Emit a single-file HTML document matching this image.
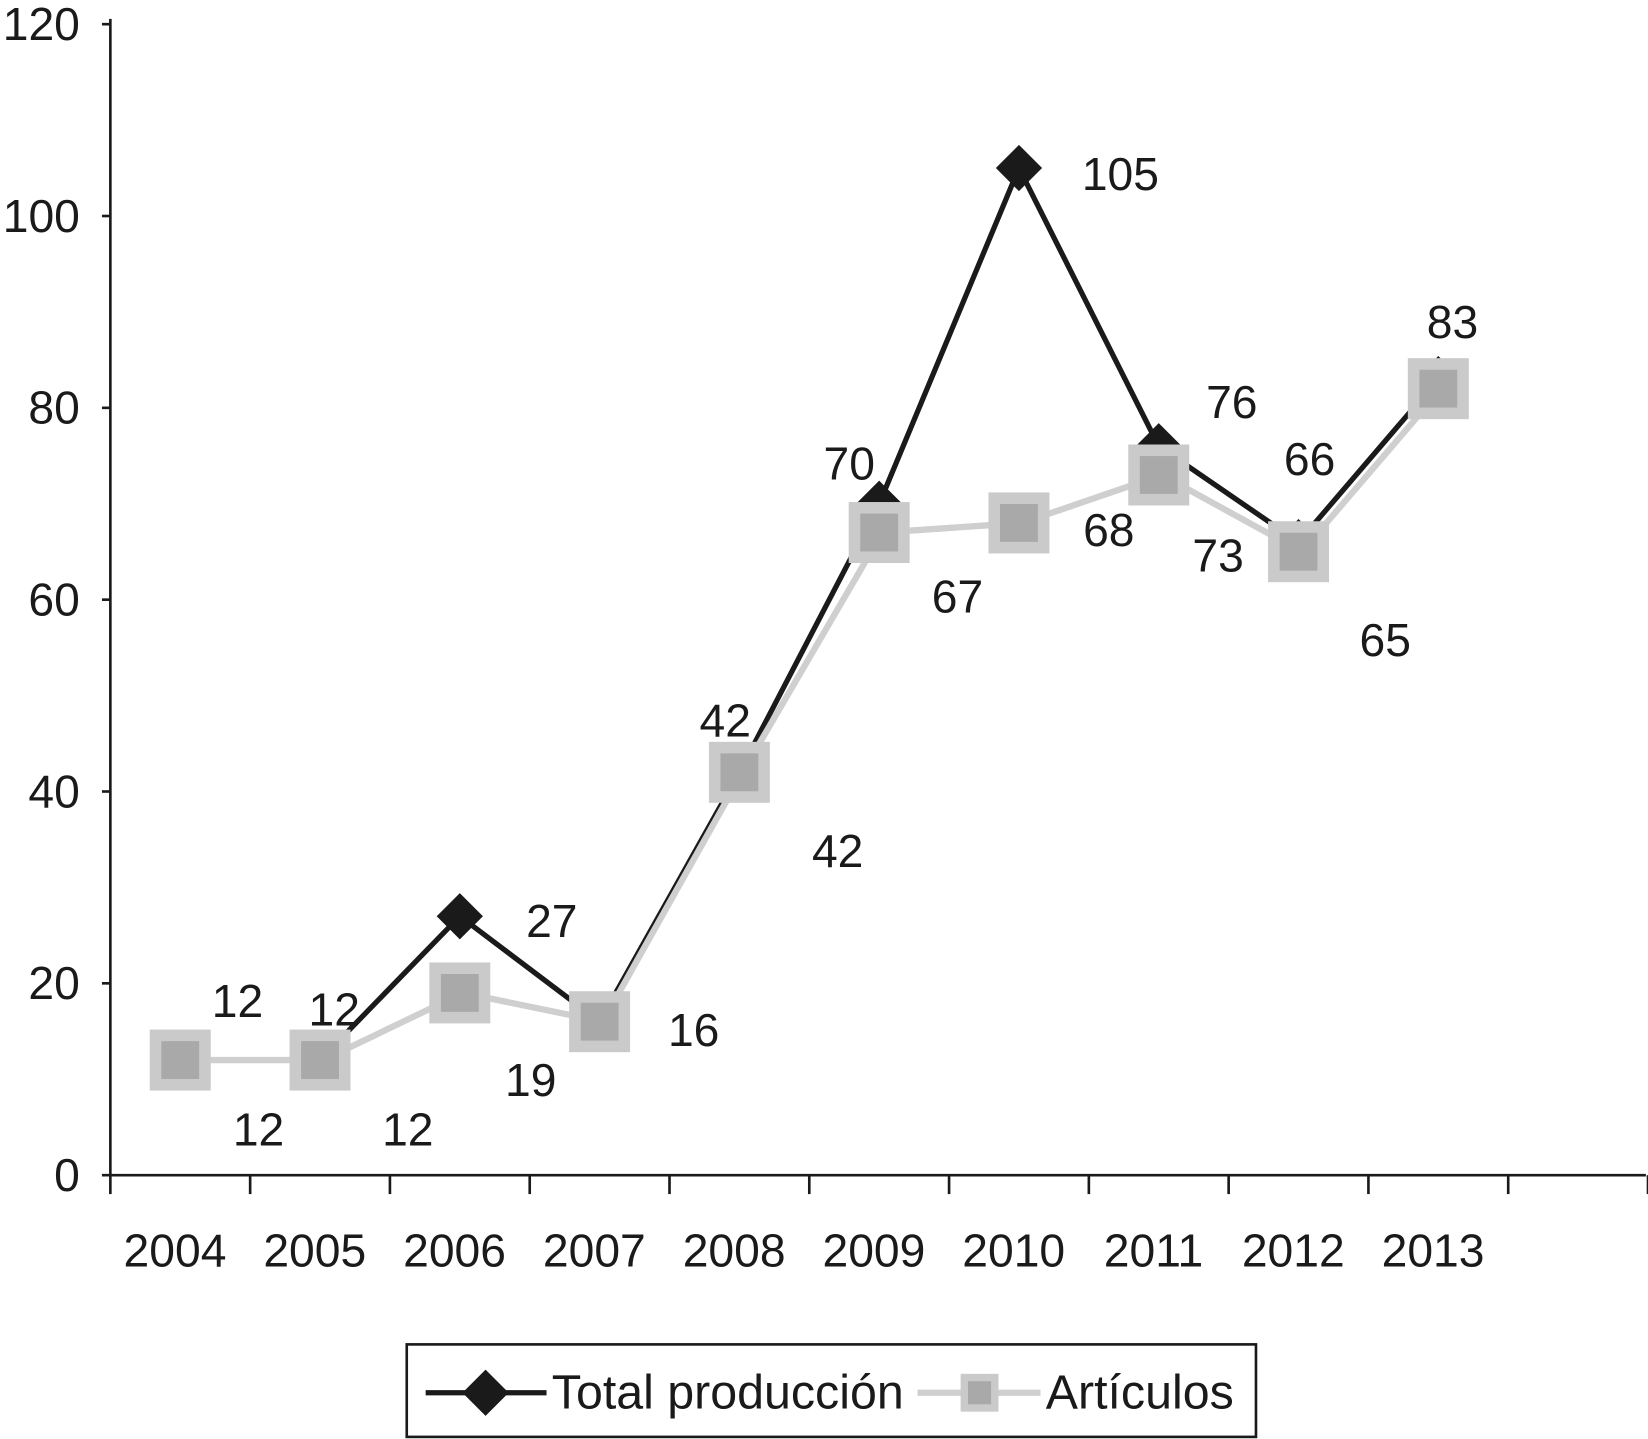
<!DOCTYPE html>
<html><head><meta charset="utf-8"><style>html,body{margin:0;padding:0;background:#fff}svg{display:block}text{font-family:"Liberation Sans",sans-serif;fill:#1a1a1a}</style></head>
<body>
<svg id="chart" width="1648" height="1439" viewBox="0 0 1568 1369" preserveAspectRatio="none" xmlns="http://www.w3.org/2000/svg"></svg>
<script>
const categories=["2004","2005","2006","2007","2008","2009","2010","2011","2012","2013"];
const totalValues=[12,12,27,16,42,70,105,76,66,83];
const articulosValues=[12,12,19,16,42,67,68,73,65,82];
const yTicks=[0,20,40,60,80,100,120];
const totalLabelOffsets=[[54.5,-56],[13.5,-48],[87.5,5],[89.5,8],[-13.5,-49],[-28.5,-38],[96.5,6],[69.5,-42],[10.5,-79],[13.5,-54]];
const artLabelOffsets=[[74.5,66.5],[83.5,66.5],[67.5,83],null,[93.5,75],[74.5,61],[85.5,7],[56.5,77],[82.5,84],null];
const NS="http://www.w3.org/2000/svg";
const svg=document.getElementById('chart');
const X0=105,Y0=1118,YTOP=23,CW=133,FS=44;
const xPos=i=>X0+CW*(i+0.5);
const yPos=v=>Y0-(v/120)*(Y0-YTOP);
function mk(tag,attrs,parent){const e=document.createElementNS(NS,tag);for(const k in attrs)e.setAttribute(k,attrs[k]);(parent||svg).appendChild(e);return e;}
let a=mk('line',{x1:X0,y1:YTOP-5,x2:X0,y2:Y0,stroke:'#1a1a1a','stroke-width':2.5});


a=mk('line',{x1:X0,y1:Y0,x2:1566,y2:Y0,stroke:'#1a1a1a','stroke-width':2.5});


yTicks.forEach(v=>{
  const y=yPos(v);
  mk('line',{x1:X0-8,y1:y,x2:X0,y2:y,stroke:'#1a1a1a','stroke-width':2.5});
  const t=mk('text',{x:76,y:y+15,'font-size':FS,'text-anchor':'end'});
  t.textContent=v;
  
  
});
for(let i=0;i<=categories.length+1;i++){
  mk('line',{x1:X0+CW*i,y1:Y0,x2:X0+CW*i,y2:Y0+18,stroke:'#1a1a1a','stroke-width':2.5});
}
categories.forEach((c,i)=>{
  const t=mk('text',{x:xPos(i)-5,y:1205,'font-size':FS,'text-anchor':'middle'});
  t.textContent=c;
  
  
});
let pl=mk('polyline',{points:totalValues.map((v,i)=>xPos(i)+','+yPos(v)).join(' '),fill:'none',stroke:'#1a1a1a','stroke-width':5});


totalValues.forEach((v,i)=>{
  const x=xPos(i),y=yPos(v),s=22;
  const d=mk('polygon',{points:`${x},${y-s} ${x+s},${y} ${x},${y+s} ${x-s},${y}`,fill:'#1a1a1a'});
  
  
});
pl=mk('polyline',{points:articulosValues.map((v,i)=>(xPos(i)+3)+','+yPos(v)).join(' '),fill:'none',stroke:'#cfcfcf','stroke-width':6});


articulosValues.forEach((v,i)=>{
  const x=xPos(i),y=yPos(v);
  const g=mk('g',{});
  
  
  mk('rect',{x:x-29,y:y-29,width:58,height:58,fill:'#cacaca'},g);
  mk('rect',{x:x-18,y:y-18,width:36,height:36,fill:'#a9a9a9'},g);
});
totalValues.forEach((v,i)=>{
  const o=totalLabelOffsets[i];if(!o)return;
  const t=mk('text',{x:xPos(i)+o[0],y:yPos(v)+o[1]+15,'font-size':FS,'text-anchor':'middle'});
  t.textContent=v;
  
  
});
articulosValues.forEach((v,i)=>{
  const o=artLabelOffsets[i];if(!o)return;
  const t=mk('text',{x:xPos(i)+o[0],y:yPos(v)+o[1]+15,'font-size':FS,'text-anchor':'middle'});
  t.textContent=v;
  
  
});
const lg=mk('g',{});


mk('rect',{x:387,y:1279,width:808,height:88,fill:'#fff',stroke:'#1a1a1a','stroke-width':2.5},lg);
mk('line',{x1:405,y1:1325,x2:520,y2:1325,stroke:'#1a1a1a','stroke-width':5},lg);
mk('polygon',{points:'462,1303 484,1325 462,1347 440,1325',fill:'#1a1a1a'},lg);
let lt=mk('text',{x:525,y:1340,'font-size':46},lg);
lt.textContent='Total producción';


mk('line',{x1:873,y1:1325,x2:990,y2:1325,stroke:'#cfcfcf','stroke-width':6},lg);
mk('rect',{x:914,y:1307,width:36,height:36,fill:'#cacaca'},lg);
mk('rect',{x:921,y:1314,width:22,height:22,fill:'#a9a9a9'},lg);
lt=mk('text',{x:995,y:1340,'font-size':46},lg);
lt.textContent='Artículos';


</script>
</body></html>
